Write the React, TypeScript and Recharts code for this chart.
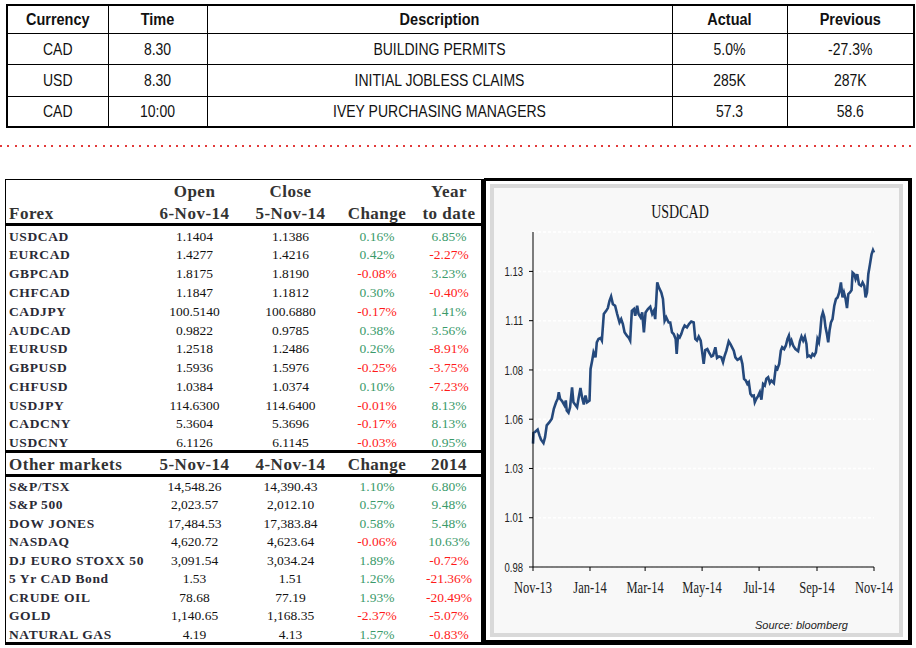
import React from "react";
import { LineChart, Line, XAxis, YAxis, CartesianGrid } from "recharts";

// economic calendar (top table)
const calHeaders = ["Currency", "Time", "Description", "Actual", "Previous"];
const calCurrency = ["CAD", "USD", "CAD"];
const calTime = ["8.30", "8.30", "10:00"];
const calDesc = ["BUILDING PERMITS", "INITIAL JOBLESS CLAIMS", "IVEY PURCHASING MANAGERS"];
const calActual = ["5.0%", "285K", "57.3"];
const calPrevious = ["-27.3%", "287K", "58.6"];

// forex block
const forexNames = ["USDCAD", "EURCAD", "GBPCAD", "CHFCAD", "CADJPY", "AUDCAD", "EURUSD", "GBPUSD", "CHFUSD", "USDJPY", "CADCNY", "USDCNY"];
const forexOpen = ["1.1404", "1.4277", "1.8175", "1.1847", "100.5140", "0.9822", "1.2518", "1.5936", "1.0384", "114.6300", "5.3604", "6.1126"];
const forexClose = ["1.1386", "1.4216", "1.8190", "1.1812", "100.6880", "0.9785", "1.2486", "1.5976", "1.0374", "114.6400", "5.3696", "6.1145"];
const forexChange = ["0.16%", "0.42%", "-0.08%", "0.30%", "-0.17%", "0.38%", "0.26%", "-0.25%", "0.10%", "-0.01%", "-0.17%", "-0.03%"];
const forexYtd = ["6.85%", "-2.27%", "3.23%", "-0.40%", "1.41%", "3.56%", "-8.91%", "-3.75%", "-7.23%", "8.13%", "8.13%", "0.95%"];

// other markets block
const mktNames = ["S&P/TSX", "S&P 500", "DOW JONES", "NASDAQ", "DJ EURO STOXX 50", "5 Yr CAD Bond", "CRUDE OIL", "GOLD", "NATURAL GAS"];
const mktLast = ["14,548.26", "2,023.57", "17,484.53", "4,620.72", "3,091.54", "1.53", "78.68", "1,140.65", "4.19"];
const mktPrev = ["14,390.43", "2,012.10", "17,383.84", "4,623.64", "3,034.24", "1.51", "77.19", "1,168.35", "4.13"];
const mktChange = ["1.10%", "0.57%", "0.58%", "-0.06%", "1.89%", "1.26%", "1.93%", "-2.37%", "1.57%"];
const mkt2014 = ["6.80%", "9.48%", "5.48%", "10.63%", "-0.72%", "-21.36%", "-20.49%", "-5.07%", "-0.83%"];

// USDCAD chart: days since 6-Nov-13, rate
const usdcadDays = [
  0, 0.5, 2.1, 5.0, 6.9, 8.6, 11.2, 12.9, 14.7, 17.6, 20.1, 22.3, 24.7, 26.5, 27.6, 29.0, 31.1, 33.7, 35.1, 36.1,
  38.0, 39.7, 41.8, 43.3, 45.0, 47.2, 48.7, 50.8, 52.5, 54.4, 56.2, 57.9, 60.5, 61.6, 63.3, 64.8, 66.9, 68.3, 70.1, 72.3,
  73.7, 75.8, 78.3, 80.1, 81.9, 83.6, 85.5, 87.9, 90.1, 92.6, 94.4, 96.2, 98.0, 100.5, 102.6, 104.0, 105.8, 108.0, 109.4, 111.5,
  113.0, 115.2, 116.9, 118.7, 120.5, 123.0, 125.5, 127.6, 129.4, 130.8, 133.0, 134.8, 137.3, 139.1, 140.9, 142.6, 145.2, 146.9, 148.8, 150.6,
  152.7, 153.8, 155.2, 157.0, 158.7, 160.5, 162.3, 164.8, 167.0, 169.4, 172.0, 173.7, 175.5, 177.4, 179.5, 180.9, 182.7, 184.4, 186.6, 188.4,
  190.9, 192.7, 195.2, 197.0, 199.1, 201.6, 203.4, 205.2, 207.0, 209.5, 211.2, 213.1, 214.9, 216.6, 218.8, 220.6, 222.4, 224.1, 225.9, 227.8,
  229.5, 231.0, 232.7, 234.5, 236.3, 237.4, 239.1, 240.9, 242.8, 244.5, 246.3, 248.1, 249.8, 251.7, 253.5, 255.2, 257.8, 259.9, 261.6, 263.5,
  265.3, 266.7, 268.8, 270.6, 272.4, 273.9, 275.3, 276.7, 278.5, 280.9, 283.8, 285.7, 287.4, 289.2, 291.0, 292.7, 293.8, 295.6, 297.5, 299.2,
  301.0, 302.8, 304.5, 306.0, 307.4, 308.8, 310.3, 311.7, 313.1, 314.6, 316.0, 317.4, 318.9, 320.6, 322.5, 324.3, 326.0, 327.8, 329.6, 331.3,
  332.8, 334.6, 336.1, 337.5, 339.3, 341.0, 342.1, 343.9, 345.3, 347.1, 348.9, 351.1, 352.8, 354.6, 356.0, 357.5, 358.9, 360.7, 362.4, 363.9,
  365.0,
];
const usdcadRate = [
  1.0426, 1.048, 1.0485, 1.0497, 1.0468, 1.0446, 1.0429, 1.0459, 1.0519, 1.0535, 1.0552, 1.0603, 1.0636, 1.0654, 1.0687, 1.0654, 1.0642, 1.062, 1.0645, 1.0594,
  1.0583, 1.0611, 1.0712, 1.0636, 1.0625, 1.0611, 1.0654, 1.0709, 1.0662, 1.0625, 1.067, 1.0636, 1.0645, 1.0805, 1.0847, 1.0889, 1.0864, 1.094, 1.0957, 1.0962,
  1.0949, 1.1084, 1.11, 1.1114, 1.1151, 1.1173, 1.1134, 1.1126, 1.1084, 1.1041, 1.1058, 1.1033, 1.0991, 1.0974, 1.0962, 1.0949, 1.11, 1.1109, 1.1075, 1.1126,
  1.1084, 1.1067, 1.1092, 1.0991, 1.1092, 1.1109, 1.1121, 1.1084, 1.11, 1.1058, 1.1244, 1.1218, 1.1193, 1.116, 1.105, 1.1067, 1.1041, 1.1041, 1.0991, 1.0982,
  1.0957, 1.0881, 1.0974, 1.0965, 1.0982, 1.1008, 1.1025, 1.1016, 1.1033, 1.1046, 1.1041, 1.0957, 1.0949, 1.0969, 1.0949, 1.0898, 1.0831, 1.0901, 1.0906, 1.0889,
  1.0868, 1.0873, 1.0915, 1.0861, 1.0868, 1.0864, 1.0839, 1.0873, 1.0898, 1.0945, 1.0932, 1.0915, 1.0898, 1.0864, 1.0851, 1.0856, 1.0864, 1.0831, 1.0755, 1.0746,
  1.0729, 1.0738, 1.0679, 1.0667, 1.067, 1.0636, 1.0654, 1.0667, 1.0687, 1.0649, 1.0729, 1.0721, 1.0755, 1.0763, 1.0734, 1.0746, 1.0733, 1.0814, 1.0805, 1.0831,
  1.0898, 1.0915, 1.0906, 1.0923, 1.0957, 1.0974, 1.0932, 1.0949, 1.0923, 1.0906, 1.0895, 1.0945, 1.097, 1.0949, 1.0969, 1.0932, 1.0868, 1.0873, 1.0864, 1.0881,
  1.0873, 1.0889, 1.0957, 1.094, 1.0991, 1.1067, 1.1092, 1.107, 1.1016, 1.0982, 1.094, 1.1, 1.1041, 1.1058, 1.1126, 1.116, 1.1168, 1.1193, 1.1244, 1.1168,
  1.1193, 1.116, 1.1114, 1.1185, 1.1193, 1.1205, 1.1294, 1.1286, 1.1261, 1.1286, 1.1235, 1.1227, 1.1244, 1.1227, 1.1168, 1.1193, 1.1286, 1.1337, 1.1387, 1.1408,
  1.1396,
];

const yTicks = [0.98, 1.005, 1.03, 1.055, 1.08, 1.105, 1.13];
const yTickLabels = ["0.98", "1.01", "1.03", "1.06", "1.08", "1.11", "1.13"];
const xTicks = [0, 61, 120, 181, 242, 304, 365];
const xTickLabels = ["Nov-13", "Jan-14", "Mar-14", "May-14", "Jul-14", "Sep-14", "Nov-14"];

const chartData = usdcadDays.map((d, i) => ({ day: d, rate: usdcadRate[i] }));

const SERIF = "'Liberation Serif', 'Times New Roman', serif";
const SANS = "'Liberation Sans', Arial, sans-serif";
const GREEN = "#3a9a6a";
const RED = "#ff1a1a";

function Txt({ cx, cy, w = 120, align = "center", children, style }: any) {
  const left = align === "left" ? cx : cx - w / 2;
  return (
    <div
      style={{
        position: "absolute",
        left,
        top: cy - 10,
        width: w,
        height: 20,
        lineHeight: "20px",
        textAlign: align,
        whiteSpace: "nowrap",
        ...style,
      }}
    >
      {children}
    </div>
  );
}

const colX = { open: 194.5, close: 290.5, chg: 377, ytd: 449 };

function pctColor(v: string) {
  return v.startsWith("-") ? RED : GREEN;
}

function DataRow({ cy, name, a, b, c, d }: any) {
  const num = { fontFamily: SERIF, fontSize: 13.5, color: "#111" };
  return (
    <>
      <Txt cx={9} cy={cy} w={170} align="left" style={{ fontFamily: SERIF, fontSize: 13.5, fontWeight: 700, letterSpacing: 0.6, color: "#2a2a36" }}>
        {name}
      </Txt>
      <Txt cx={colX.open} cy={cy} style={num}>{a}</Txt>
      <Txt cx={colX.close} cy={cy} style={num}>{b}</Txt>
      <Txt cx={colX.chg} cy={cy} style={{ ...num, color: pctColor(c) }}>{c}</Txt>
      <Txt cx={colX.ytd} cy={cy} style={{ ...num, color: pctColor(d) }}>{d}</Txt>
    </>
  );
}

const head = { fontFamily: SERIF, fontSize: 17, fontWeight: 700, letterSpacing: 0.5, color: "#333" };

function XTick({ x, y, payload }: any) {
  const i = xTicks.indexOf(payload.value);
  return (
    <g transform={`translate(${x},${y})`}>
      <text x={0} y={22 / 1.4} transform="scale(1,1.4)" textAnchor="middle" fontFamily={SERIF} fontSize={12.5} fill="#222">
        {xTickLabels[i]}
      </text>
    </g>
  );
}

function YTick({ x, y, payload }: any) {
  const i = yTicks.indexOf(payload.value);
  return (
    <g transform={`translate(${x},${y})`}>
      <text x={0} y={0} dy="0.355em" transform="scale(1,1.4)" textAnchor="end" fontFamily={SANS} fontSize={9.5} fill="#222">
        {yTickLabels[i]}
      </text>
    </g>
  );
}

export default function App() {
  const calRows = calCurrency.map((c, i) => [c, calTime[i], calDesc[i], calActual[i], calPrevious[i]]);
  const cell = { border: "1px solid #000", padding: 0, textAlign: "center" as const, fontFamily: SANS, fontSize: 14, color: "#111" };
  const stretch = { display: "inline-block", transform: "scaleY(1.2)" };
  const rowH = [28, 31, 32, 31];

  return (
    <div style={{ position: "relative", width: 916, height: 648, background: "#fff", overflow: "hidden" }}>
      <style>{`body{margin:0}`}</style>

      {/* calendar table */}
      <table
        style={{
          position: "absolute",
          left: 6,
          top: 4,
          width: 907,
          borderCollapse: "collapse",
          tableLayout: "fixed",
          border: "2px solid #000",
        }}
      >
        <colgroup>
          <col style={{ width: 101 }} />
          <col style={{ width: 99 }} />
          <col style={{ width: 465 }} />
          <col style={{ width: 115 }} />
          <col style={{ width: 127 }} />
        </colgroup>
        <tbody>
          <tr style={{ height: rowH[0] }}>
            {calHeaders.map((h) => (
              <td key={h} style={{ ...cell, fontWeight: 700, fontSize: 14.5 }}>
                <span style={stretch}>{h}</span>
              </td>
            ))}
          </tr>
          {calRows.map((r, i) => (
            <tr key={i} style={{ height: rowH[i + 1] }}>
              {r.map((v, j) => (
                <td key={j} style={cell}>
                  <span style={stretch}>{v}</span>
                </td>
              ))}
            </tr>
          ))}
        </tbody>
      </table>

      {/* red dotted separator */}
      <div
        style={{
          position: "absolute",
          left: 0,
          top: 145,
          width: 916,
          height: 2,
          background: "repeating-linear-gradient(to right, #e23a3a 0px, #e23a3a 2px, transparent 2px, transparent 7.33px)",
        }}
      />

      {/* markets table frame */}
      <div
        style={{
          position: "absolute",
          left: 5,
          top: 179,
          width: 479,
          height: 466,
          boxSizing: "border-box",
          borderTop: "1.5px solid #000",
          borderLeft: "1.5px solid #000",
          borderRight: "3px solid #000",
          borderBottom: "3px solid #000",
        }}
      />
      <div style={{ position: "absolute", left: 5, top: 223, width: 479, height: 3, background: "#000" }} />
      <div style={{ position: "absolute", left: 5, top: 449.5, width: 479, height: 3, background: "#000" }} />
      <div style={{ position: "absolute", left: 5, top: 474, width: 479, height: 3, background: "#000" }} />

      <Txt cx={colX.open} cy={192} style={head}>Open</Txt>
      <Txt cx={colX.close} cy={192} style={head}>Close</Txt>
      <Txt cx={colX.ytd} cy={192} style={head}>Year</Txt>
      <Txt cx={9} cy={214} w={100} align="left" style={head}>Forex</Txt>
      <Txt cx={colX.open} cy={214} style={head}>6-Nov-14</Txt>
      <Txt cx={colX.close} cy={214} style={head}>5-Nov-14</Txt>
      <Txt cx={colX.chg} cy={214} style={head}>Change</Txt>
      <Txt cx={colX.ytd} cy={214} style={head}>to date</Txt>

      {forexNames.map((n, i) => (
        <DataRow key={n} cy={236.6 + i * 18.78} name={n} a={forexOpen[i]} b={forexClose[i]} c={forexChange[i]} d={forexYtd[i]} />
      ))}

      <Txt cx={9} cy={464.5} w={160} align="left" style={head}>Other markets</Txt>
      <Txt cx={colX.open} cy={464.5} style={head}>5-Nov-14</Txt>
      <Txt cx={colX.close} cy={464.5} style={head}>4-Nov-14</Txt>
      <Txt cx={colX.chg} cy={464.5} style={head}>Change</Txt>
      <Txt cx={colX.ytd} cy={464.5} style={head}>2014</Txt>

      {mktNames.map((n, i) => (
        <DataRow key={n} cy={486.7 + i * 18.54} name={n} a={mktLast[i]} b={mktPrev[i]} c={mktChange[i]} d={mkt2014[i]} />
      ))}

      {/* chart panel */}
      <div
        style={{
          position: "absolute",
          left: 484,
          top: 178,
          width: 428,
          height: 467,
          boxSizing: "border-box",
          borderTop: "3px solid #000",
          borderLeft: "2px solid #000",
          borderRight: "4px solid #000",
          borderBottom: "5px solid #000",
        }}
      />
      <div
        style={{
          position: "absolute",
          left: 490,
          top: 184,
          width: 413,
          height: 453,
          boxSizing: "border-box",
          border: "4px solid #d9d9d9",
          background: "#f8f8f8",
        }}
      />
      <div
        style={{
          position: "absolute",
          left: 620,
          top: 202,
          width: 120,
          height: 20,
          lineHeight: "20px",
          textAlign: "center",
          fontFamily: SERIF,
          fontSize: 14,
          color: "#111",
          transform: "scaleY(1.38)",
        }}
      >
        USDCAD
      </div>

      <div style={{ position: "absolute", left: 494, top: 188 }}>
        <LineChart width={404} height={440} data={chartData} margin={{ top: 44, right: 24, bottom: 0, left: 0 }}>
          <CartesianGrid horizontal vertical={false} stroke="#ffffff" strokeWidth={1.5} strokeDasharray="3 2" />
          <XAxis
            dataKey="day"
            type="number"
            domain={[0, 365]}
            ticks={xTicks}
            interval={0}
            height={61}
            axisLine={{ stroke: "#000" }}
            tickLine={{ stroke: "#000" }}
            tickSize={4}
            tickMargin={0}
            tick={<XTick />}
          />
          <YAxis
            type="number"
            domain={[0.98, 1.15]}
            ticks={yTicks}
            interval={0}
            width={39}
            axisLine={{ stroke: "#000" }}
            tickLine={{ stroke: "#000" }}
            tickSize={4}
            tickMargin={6}
            tick={<YTick />}
          />
          <Line
            type="linear"
            dataKey="rate"
            stroke="#25497c"
            strokeWidth={2.6}
            dot={false}
            isAnimationActive={false}
          />
        </LineChart>
      </div>

      <div
        style={{
          position: "absolute",
          left: 755,
          top: 619,
          fontFamily: SANS,
          fontStyle: "italic",
          fontSize: 11,
          color: "#222",
          whiteSpace: "nowrap",
        }}
      >
        Source: bloomberg
      </div>
    </div>
  );
}
